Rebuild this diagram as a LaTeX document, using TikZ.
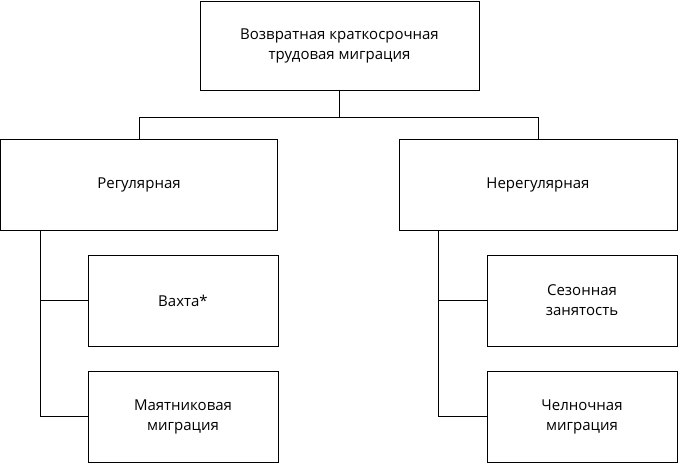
\documentclass[tikz,border=0pt]{standalone}
\usepackage{fontspec}
\setmainfont{Open Sans}
\begin{document}
\begin{tikzpicture}[x=1pt,y=-1pt,
  box/.style={draw, line width=1pt, rectangle, align=center, inner sep=0pt,
    font=\fontsize{15}{20}\selectfont},
  bigbox/.style={box, minimum width=278pt, minimum height=91pt},
  smallbox/.style={box, minimum width=190pt, minimum height=91pt},
  conn/.style={line width=1pt}]
\useasboundingbox (0,0) rectangle (678,463);
\node[box, minimum width=279pt, minimum height=89pt] (top) at (339.5,45.5) {Возвратная краткосрочная\\трудовая миграция};
\node[bigbox, minimum width=277pt] (reg) at (139,184.5) {Регулярная};
\node[bigbox] (nereg) at (538,184.5) {Нерегулярная};
\node[smallbox] (vakhta) at (183,300.5) {Вахта*};
\node[smallbox] (mayat) at (183,416.5) {Маятниковая\\миграция};
\node[smallbox] (sezon) at (582,300.5) {Сезонная\\занятость};
\node[smallbox] (chel) at (582,416.5) {Челночная\\миграция};
\draw[conn] (top.south) -- (top.south |- 0,117) coordinate (split);
\draw[conn] (split) -| (reg.north);
\draw[conn] (split) -| (nereg.north);
\coordinate (lt) at ([xshift=40pt]reg.south west);
\draw[conn] (lt) |- (mayat.west);
\draw[conn] (lt |- vakhta.west) -- (vakhta.west);
\coordinate (rt) at ([xshift=40pt]nereg.south west);
\draw[conn] (rt) |- (chel.west);
\draw[conn] (rt |- sezon.west) -- (sezon.west);
\end{tikzpicture}
\end{document}
